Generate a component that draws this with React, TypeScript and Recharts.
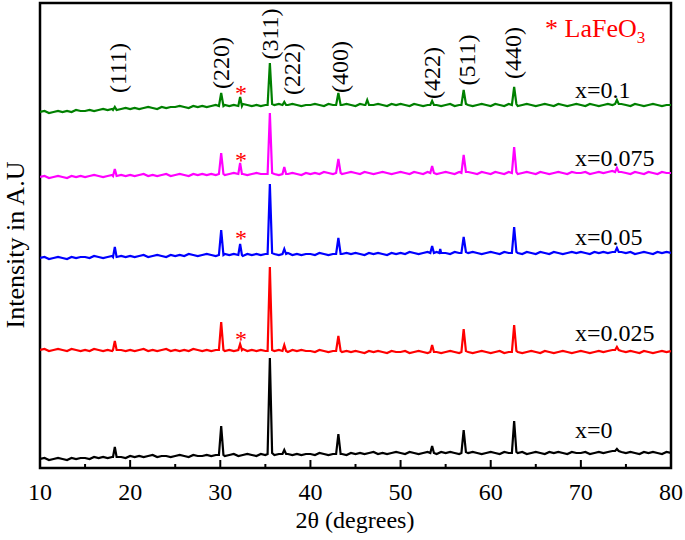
import { LineChart, Line, XAxis, YAxis, ReferenceDot, ReferenceArea } from "recharts";

const FONT = "'Liberation Serif', 'DejaVu Serif', 'Times New Roman', serif";

// 2θ grid for the background (degrees)
const angles = [10,10.5,11,11.5,12,12.5,13,13.5,14,14.5,15,15.5,16,16.5,17,17.5,18,18.5,19,19.5,20,20.5,21,21.5,22,22.5,23,23.5,24,24.5,25,25.5,26,26.5,27,27.5,28,28.5,29,29.5,30,30.5,31,31.5,32,32.5,33,33.5,34,34.5,35,35.5,36,36.5,37,37.5,38,38.5,39,39.5,40,40.5,41,41.5,42,42.5,43,43.5,44,44.5,45,45.5,46,46.5,47,47.5,48,48.5,49,49.5,50,50.5,51,51.5,52,52.5,53,53.5,54,54.5,55,55.5,56,56.5,57,57.5,58,58.5,59,59.5,60,60.5,61,61.5,62,62.5,63,63.5,64,64.5,65,65.5,66,66.5,67,67.5,68,68.5,69,69.5,70,70.5,71,71.5,72,72.5,73,73.5,74,74.5,75,75.5,76,76.5,77,77.5,78,78.5,79,79.5,80];

const xTicks = [10, 15, 20, 25, 30, 35, 40, 45, 50, 55, 60, 65, 70, 75, 80];

// background intensity (stacked, a.u.)
const bgX0 = [9,10,8,9,10,9,8,10,9,10, 10,9,11,10,11,10,11,10,11,10, 12,11,12,11,12,13,11,12,12,11, 12,13,12,11,13,12,12,13,12,13, 13,12,13,14,12,13,14,13,12,14, 13,14,13,14,13,14,13,14,13,14, 14,13,15,14,13,14,15,14,13,15, 14,15,14,15,16,14,15,14,15,16, 15,14,16,15,14,15,16,15,14,16, 15,16,15,14,16,15,16,15,14,15, 16,15,14,16,15,16,15,16,14,15, 16,15,14,16,15,16,15,14,16,15, 15,16,14,15,16,15,16,17,18,16, 15,16,15,14,16,15,16,15,14,16, 15];
const bgX025 = [118,119,117,118,119,118,117,119,118,117, 118,117,119,118,117,118,117,118,118,117, 118,117,118,119,117,118,117,118,119,117, 118,117,118,117,119,118,117,118,117,118, 118,117,118,117,118,119,117,118,117,118, 117,118,117,118,117,116,118,117,118,117, 117,116,118,117,116,117,118,116,117,116, 117,116,115,117,116,117,116,115,117,116, 116,117,115,116,117,116,115,117,116,115, 116,117,116,115,117,116,115,116,117,116, 115,116,117,115,116,117,116,115,116,117, 116,115,117,116,115,116,117,116,115,116, 117,116,115,116,117,116,117,118,119,117, 116,117,116,115,117,116,115,116,117,116, 117];
const bgX05 = [210,211,209,210,211,210,209,211,210,211, 211,210,212,211,210,211,212,211,212,211, 212,211,212,213,211,212,213,212,211,213, 212,213,212,214,213,212,213,214,213,212, 213,214,213,214,213,212,214,213,214,213, 214,213,214,213,214,215,213,214,213,214, 214,213,215,214,213,214,215,214,215,214, 215,214,213,215,214,215,214,213,215,214, 215,214,216,215,214,215,216,217,216,214, 215,214,216,215,214,215,216,215,214,215, 216,215,214,216,215,216,215,214,216,215, 214,216,215,214,216,215,214,215,216,215, 216,215,214,216,215,216,215,216,217,216, 215,216,214,215,216,215,214,216,215,216, 215];
const bgX075 = [291,292,290,291,292,291,290,292,291,292, 291,292,293,292,291,292,293,292,293,292, 293,292,293,294,292,293,292,293,294,292, 293,294,293,292,294,293,294,293,294,293, 294,293,294,295,293,294,293,294,295,294, 294,295,294,293,295,294,295,294,293,295, 294,295,294,296,295,294,295,294,295,296, 295,294,296,295,294,295,296,295,294,295, 296,295,294,296,295,294,296,295,294,295, 296,295,294,296,295,296,295,294,296,295, 294,296,295,294,296,295,294,295,296,295, 294,296,295,294,295,296,295,294,296,295, 295,296,294,295,296,295,296,297,298,296, 295,294,296,295,294,296,295,294,296,295, 295];
const bgX01 = [356,357,355,356,357,356,357,356,358,357, 357,358,357,358,359,358,359,358,359,360, 359,360,359,360,361,360,359,361,360,361, 361,362,361,360,362,361,362,361,362,363, 362,363,362,363,362,364,363,362,363,362, 363,362,363,364,362,363,364,363,362,363, 363,364,363,362,364,363,362,363,364,363, 362,364,363,362,363,364,363,362,364,363, 364,363,362,364,363,362,363,364,363,362, 363,364,362,363,364,363,362,363,364,363, 362,364,363,362,364,363,362,363,364,363, 362,363,364,363,362,364,363,362,363,364, 363,362,364,363,362,363,364,363,365,364, 363,362,364,363,362,363,364,363,362,363, 363];

// reflections: [2θ, intensity] in triplets (left foot, top, right foot)
const pkX0 = [
  [18.1,11],[18.3,21],[18.5,11],
  [29.85,13],[30.1,42],[30.35,13],
  [35.25,14],[35.5,110],[35.75,15],
  [36.9,14],[37.1,18],[37.3,14],
  [42.85,14],[43.1,34],[43.35,14],
  [53.3,15],[53.5,22],[53.7,15],
  [56.75,15],[57.0,38],[57.25,16],
  [62.35,15],[62.6,47],[62.85,16],
  [73.8,17],[74.0,19],[74.2,17],
];
const pkX025 = [
  [18.1,118],[18.3,127],[18.5,118],
  [29.85,118],[30.1,146],[30.35,118],
  [32.0,118],[32.2,124],[32.4,118],
  [35.25,117],[35.5,201],[35.75,118],
  [36.9,117],[37.1,123],[37.3,117],
  [42.85,117],[43.1,132],[43.35,117],
  [53.3,116],[53.5,123],[53.7,116],
  [56.75,116],[57.0,139],[57.25,117],
  [62.35,116],[62.6,143],[62.85,117],
  [73.8,118],[74.0,121],[74.2,118],
];
const pkX05 = [
  [18.1,211],[18.3,221],[18.5,211],
  [29.85,213],[30.1,238],[30.35,213],
  [32.0,213],[32.2,224],[32.4,213],
  [35.25,214],[35.5,284],[35.75,215],
  [36.9,214],[37.1,219],[37.3,214],
  [42.85,214],[43.1,230],[43.35,214],
  [53.3,215],[53.5,222],[53.7,215],
  [54.3,215],[54.4,219],[54.5,215],
  [56.75,215],[57.0,231],[57.25,216],
  [62.35,215],[62.6,241],[62.85,216],
  [73.8,216],[74.0,220],[74.2,216],
];
const pkX075 = [
  [18.1,292],[18.3,299],[18.5,292],
  [29.85,294],[30.1,315],[30.35,294],
  [32.0,294],[32.2,305],[32.4,294],
  [35.25,294],[35.5,355],[35.75,295],
  [36.9,294],[37.1,301],[37.3,294],
  [42.85,295],[43.1,309],[43.35,295],
  [53.3,295],[53.5,302],[53.7,295],
  [56.75,295],[57.0,313],[57.25,296],
  [62.35,295],[62.6,321],[62.85,296],
  [73.8,296],[74.0,300],[74.2,296],
];
const pkX01 = [
  [18.1,358],[18.3,361],[18.5,358],
  [29.85,362],[30.1,375],[30.35,362],
  [32.0,362],[32.2,371],[32.4,362],
  [35.25,363],[35.5,405],[35.75,364],
  [36.9,363],[37.1,366],[37.3,363],
  [42.85,363],[43.1,375],[43.35,363],
  [46.1,363],[46.3,368],[46.5,363],
  [53.3,363],[53.5,367],[53.7,363],
  [56.75,363],[57.0,378],[57.25,364],
  [62.35,363],[62.6,381],[62.85,364],
  [73.8,364],[74.0,368],[74.2,364],
];

// labels
const hklLabels = ["(111)", "(220)", "(311)", "(222)", "(400)", "(422)", "(511)", "(440)"];
const hklX = [18.65, 30.08, 35.5, 37.96, 43.28, 53.49, 57.37, 62.47];
const hklY = [400, 405, 434, 399, 401, 395, 408, 415];
const starY = [378, 311, 233, 132];
const sampleLabels = ["x=0.1", "x=0.075", "x=0.05", "x=0.025", "x=0"];
const sampleLabelY = [370, 302, 223, 127, 30];

function buildSeries(bg: number[], pk: number[][]) {
  const spans: number[][] = [];
  for (let i = 0; i < pk.length; i += 3) spans.push([pk[i][0], pk[i + 2][0]]);
  const pts = angles
    .map((a, i) => ({ a, v: bg[i] }))
    .filter((p) => !spans.some(([lo, hi]) => p.a >= lo && p.a <= hi));
  pk.forEach(([a, v]) => pts.push({ a, v }));
  return pts.sort((p, q) => p.a - q.a);
}

const series = [
  { name: "x=0", color: "#000000", data: buildSeries(bgX0, pkX0) },
  { name: "x=0.025", color: "#ff0000", data: buildSeries(bgX025, pkX025) },
  { name: "x=0.05", color: "#0000ff", data: buildSeries(bgX05, pkX05) },
  { name: "x=0.075", color: "#ff00ff", data: buildSeries(bgX075, pkX075) },
  { name: "x=0.1", color: "#008000", data: buildSeries(bgX01, pkX01) },
];

const PLOT_BOTTOM = 468;

const XTick = (props: any) => {
  const { x, payload } = props;
  const major = payload.value % 10 === 0;
  return (
    <g>
      <line x1={x} x2={x} y1={PLOT_BOTTOM} y2={PLOT_BOTTOM - (major ? 8 : 4)} stroke="#000" strokeWidth={2} />
      {major && (
        <text x={x} y={500} textAnchor="middle" style={{ fontFamily: FONT, fontSize: 24 }} fill="#000">
          {payload.value}
        </text>
      )}
    </g>
  );
};

export default function App() {
  return (
    <div style={{ position: "absolute", left: 0, top: 0, width: 685, height: 540, background: "#fff" }}>
      <LineChart width={685} height={540} margin={{ top: 3, right: 14, bottom: 42, left: 40 }}>
        <XAxis
          xAxisId="b"
          type="number"
          dataKey="a"
          domain={[10, 80]}
          ticks={xTicks}
          allowDataOverflow
          height={30}
          tickLine={false}
          tick={XTick}
          axisLine={false}
        />
        <YAxis
          yAxisId="l"
          type="number"
          domain={[0, 465]}
          allowDataOverflow
          hide
        />
        <ReferenceArea
          xAxisId="b"
          yAxisId="l"
          x1={10}
          x2={80}
          y1={0}
          y2={465}
          fill="none"
          fillOpacity={0}
          stroke="#000"
          strokeWidth={2.5}
          ifOverflow="visible"
        />
        {series.map((s) => (
          <Line
            key={s.name}
            xAxisId="b"
            yAxisId="l"
            data={s.data}
            dataKey="v"
            type="linear"
            stroke={s.color}
            strokeWidth={2.2}
            dot={false}
            isAnimationActive={false}
          />
        ))}
        {hklLabels.map((t, i) => (
          <ReferenceDot
            key={t}
            xAxisId="b"
            yAxisId="l"
            x={hklX[i]}
            y={hklY[i]}
            r={0}
            ifOverflow="visible"
            shape={(p: any) => (
              <text
                x={p.cx}
                y={p.cy}
                transform={`rotate(-90, ${p.cx}, ${p.cy})`}
                textAnchor="middle"
                dominantBaseline="central"
                style={{ fontFamily: FONT, fontSize: 24 }}
                fill="#000"
              >
                {t}
              </text>
            )}
          />
        ))}
        {starY.map((y, i) => (
          <ReferenceDot
            key={"s" + i}
            xAxisId="b"
            yAxisId="l"
            x={32.3}
            y={y}
            r={0}
            ifOverflow="visible"
            shape={(p: any) => (
              <text x={p.cx} y={p.cy + 11} textAnchor="middle" style={{ fontFamily: FONT, fontSize: 24 }} fill="#ff0000">
                *
              </text>
            )}
          />
        ))}
        {sampleLabels.map((t, i) => (
          <ReferenceDot
            key={t}
            xAxisId="b"
            yAxisId="l"
            x={69.35}
            y={sampleLabelY[i]}
            r={0}
            ifOverflow="visible"
            shape={(p: any) => (
              <text x={p.cx} y={p.cy} style={{ fontFamily: FONT, fontSize: 24 }} fill="#000">
                {t}
              </text>
            )}
          />
        ))}
      </LineChart>
      <svg width={685} height={540} style={{ position: "absolute", left: 0, top: 0, pointerEvents: "none" }}>
        <text x={355} y={528} textAnchor="middle" style={{ fontFamily: FONT, fontSize: 24 }} fill="#000">
          2θ (degrees)
        </text>
        <text
          x={15}
          y={245}
          transform="rotate(-90, 15, 245)"
          textAnchor="middle"
          dominantBaseline="central"
          style={{ fontFamily: FONT, fontSize: 26 }}
          fill="#000"
        >
          Intensity in A.U
        </text>
        <text x={545} y={37} style={{ fontFamily: FONT, fontSize: 26 }} fill="#ff0000">
          * LaFeO<tspan dy={6} style={{ fontSize: 17 }}>3</tspan>
        </text>
      </svg>
    </div>
  );
}
